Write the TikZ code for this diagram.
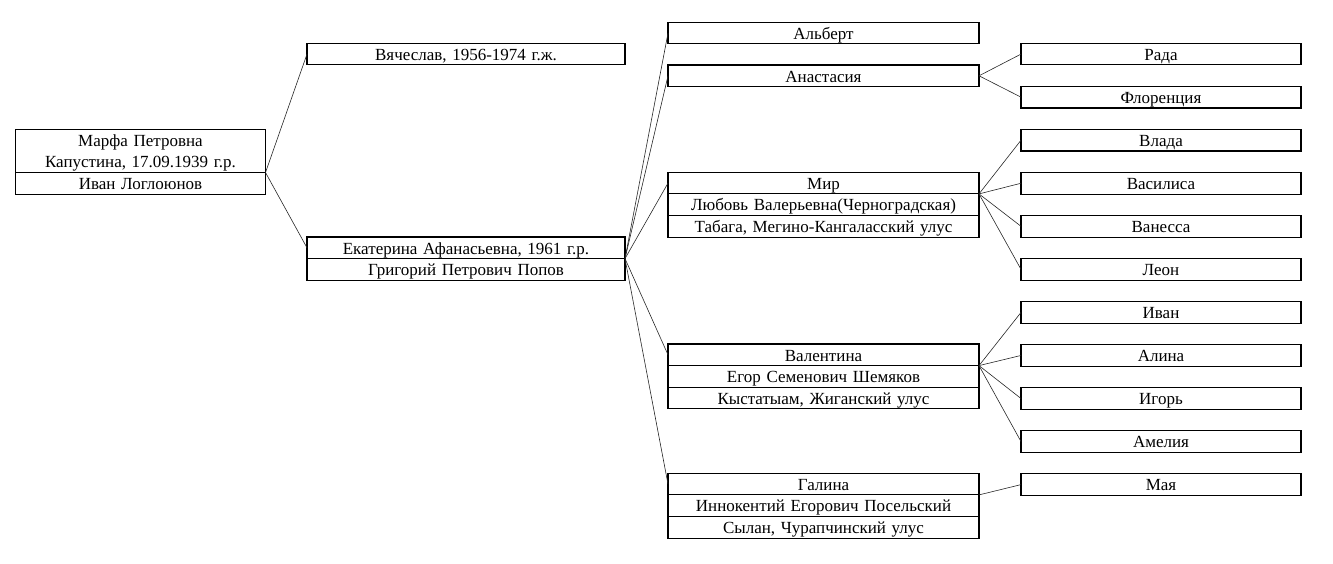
\documentclass[tikz,border=0pt]{standalone}
\usepackage{fontspec}
\setmainfont{Liberation Serif}
\usetikzlibrary{positioning}
\tikzset{
  cell/.style={draw=black, line width=1.1pt, outer sep=0pt, inner sep=0pt,
    text width=#1, align=center, minimum height=21.6pt,
    text height=13pt, text depth=0.6pt,
    font=\fontsize{17}{21.6}\selectfont},
  link/.style={draw=black!85, line width=0.6pt}
}
\begin{document}
\begin{tikzpicture}[x=1pt, y=-1pt]
\useasboundingbox (0,0) rectangle (1333,563);
% root
\node [cell=250pt, anchor=north west, minimum height=43.2pt, text depth=22.2pt] (marfa) at (15.5,129.3) {Марфа Петровна\\Капустина, 17.09.1939 г.р.};
\node [cell=250pt, below=0pt of marfa] (ivan) {Иван Логлоюнов};
% children
\node [cell=318pt, anchor=north west] (vyach) at (307,43.3) {Вячеслав, 1956-1974 г.ж.};
\node [cell=318pt, anchor=north west] (ekat) at (307,237) {Екатерина Афанасьевна, 1961 г.р.};
\node [cell=318pt, below=0pt of ekat] (grig) {Григорий Петрович Попов};
% grandchildren
\node [cell=311pt, anchor=north west] (albert) at (668,22.3) {Альберт};
\node [cell=311pt, anchor=north west] (anast) at (668,65) {Анастасия};
\node [cell=311pt, anchor=north west] (mir) at (668,172.3) {Мир};
\node [cell=311pt, below=0pt of mir] (lyubov) {Любовь Валерьевна(Черноградская)};
\node [cell=311pt, below=0pt of lyubov] (tabaga) {Табага, Мегино-Кангаласский улус};
\node [cell=311pt, anchor=north west] (valent) at (668,344) {Валентина};
\node [cell=311pt, below=0pt of valent] (egor) {Егор Семенович Шемяков};
\node [cell=311pt, below=0pt of egor] (kyst) {Кыстатыам, Жиганский улус};
\node [cell=311pt, anchor=north west] (galina) at (668,473.3) {Галина};
\node [cell=311pt, below=0pt of galina] (innok) {Иннокентий Егорович Посельский};
\node [cell=311pt, below=0pt of innok] (sylan) {Сылан, Чурапчинский улус};
% great-grandchildren
\foreach \n/\t [count=\k from 0] in {rada/Рада, flor/Флоренция, vlada/Влада,
    vasil/Василиса, vaness/Ванесса, leon/Леон, ivanj/Иван, alina/Алина,
    igor/Игорь, amel/Амелия, maya/Мая}
  \node [cell=280pt, anchor=north west] (\n) at (1021,43.3+43.05*\k) {\t};
% links
\foreach \c in {vyach,ekat}
  \draw [link] (marfa.south east) -- (\c.west);
\foreach \c in {albert,anast,mir,valent,galina}
  \draw [link] (ekat.south east) -- (\c.west);
\foreach \c in {rada,flor}
  \draw [link] (anast.east) -- (\c.west);
\foreach \c in {vlada,vasil,vaness,leon}
  \draw [link] (mir.south east) -- (\c.west);
\foreach \c in {ivanj,alina,igor,amel}
  \draw [link] (valent.south east) -- (\c.west);
\draw [link] (galina.south east) -- (maya.west);
\end{tikzpicture}
\end{document}
